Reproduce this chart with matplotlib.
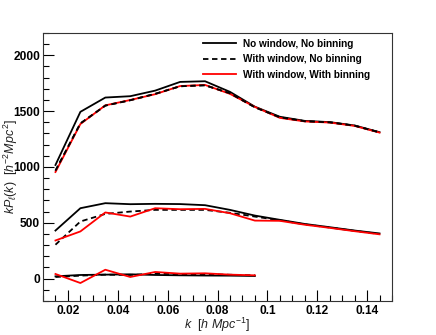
import numpy as np
import matplotlib
matplotlib.use("Agg")
import matplotlib.pyplot as plt
from matplotlib.ticker import MultipleLocator

plt.rcParams['font.family'] = ['Liberation Sans', 'DejaVu Sans']
plt.rcParams['mathtext.fontset'] = 'custom'
plt.rcParams['mathtext.it'] = 'Liberation Sans:italic'
plt.rcParams['mathtext.rm'] = 'Liberation Sans'

# k bins
k = [0.015, 0.025, 0.035, 0.045, 0.055, 0.065, 0.075,
     0.085, 0.095, 0.105, 0.115, 0.125, 0.135, 0.145]
k_hex = k[:9]

# monopole
mono_nowin = [1018, 1494, 1622, 1634, 1684, 1762, 1768,
              1673, 1540, 1450, 1413, 1402, 1372, 1312]
mono_win = [967, 1390, 1550, 1598, 1655, 1723, 1732,
            1660, 1535, 1445, 1410, 1400, 1370, 1310]
mono_bin = [955, 1385, 1552, 1600, 1652, 1725, 1735,
            1655, 1538, 1440, 1408, 1398, 1368, 1308]

# quadrupole
quad_nowin = [431, 631, 676, 667, 670, 668, 658,
              616, 565, 527, 490, 461, 431, 405]
quad_win = [304, 512, 580, 601, 616, 616, 616,
            590, 556, 523, 486, 458, 428, 400]
quad_bin = [342, 423, 593, 556, 631, 622, 625,
            586, 520, 518, 483, 455, 425, 397]

# hexadecapole
hex_nowin = [21, 33, 36, 39, 33, 30, 28, 27, 24]
hex_win = [15, 27, 36, 33, 45, 40, 40, 35, 30]
hex_bin = [42, -39, 80, 15, 60, 45, 48, 36, 30]

fig = plt.figure(figsize=(4.36, 3.35), dpi=100)
ax = fig.add_axes([43/436, 1 - 301/335, (392-43)/436, (301-33)/335])

lw = 1.3
dash = (0, (3, 2))
ax.plot(k, mono_nowin, color='black', lw=lw, label='No window, No binning')
ax.plot(k, mono_win, color='black', lw=lw, ls=dash, label='With window, No binning')
ax.plot(k, mono_bin, color='red', lw=lw, label='With window, With binning')
ax.plot(k, mono_win, color='black', lw=lw, ls=dash)

ax.plot(k, quad_nowin, color='black', lw=lw)
ax.plot(k, quad_win, color='black', lw=lw, ls=dash)
ax.plot(k, quad_bin, color='red', lw=lw)

ax.plot(k_hex, hex_nowin, color='black', lw=lw)
ax.plot(k_hex, hex_win, color='black', lw=lw, ls=dash)
ax.plot(k_hex, hex_bin, color='red', lw=lw)

ax.set_xlim(0.01, 0.15)
ax.set_ylim(-200, 2200)
ax.xaxis.set_minor_locator(MultipleLocator(0.005))
ax.yaxis.set_minor_locator(MultipleLocator(100))
ax.set_xticks([0.02, 0.04, 0.06, 0.08, 0.10, 0.12, 0.14])
ax.set_xticklabels(['0.02', '0.04', '0.06', '0.08', '0.1', '0.12', '0.14'])
ax.set_yticks([0, 500, 1000, 1500, 2000])
ax.set_yticklabels(['0', '500', '1000', '1500', '2000'])
ax.tick_params(which='both', direction='in', top=False, right=False,
               labelsize=8.6, width=0.8)
ax.tick_params(axis='x', pad=3)
ax.tick_params(axis='y', pad=2)
ax.tick_params(which='major', length=8)
ax.tick_params(which='minor', length=4)
for lab in ax.get_xticklabels() + ax.get_yticklabels():
    lab.set_fontweight('bold')
for s in ax.spines.values():
    s.set_linewidth(0.8)
    s.set_color('#333333')

ax.set_xlabel(r'$k$  $[h\ Mpc^{-1}]$', fontsize=9, color='#222222')
ax.set_ylabel(r'$kP_{\ell}(k)$  $[h^{-2}Mpc^{2}]$', fontsize=9, color='#222222')
ax.xaxis.set_label_coords(0.5, -(316 - 301) / 268)
ax.yaxis.set_label_coords(-(43 - 20) / 349, 0.5)

leg = ax.legend(loc='upper left', frameon=False, fontsize=7.2,
                handlelength=3.3, handletextpad=0.7, borderaxespad=0.0,
                borderpad=0.0, labelspacing=0.55,
                bbox_to_anchor=((203 - 43) / 349, 1 - (39 - 33) / 268))
for t in leg.get_texts():
    t.set_fontweight('bold')

fig.savefig('out.png', dpi=100)
